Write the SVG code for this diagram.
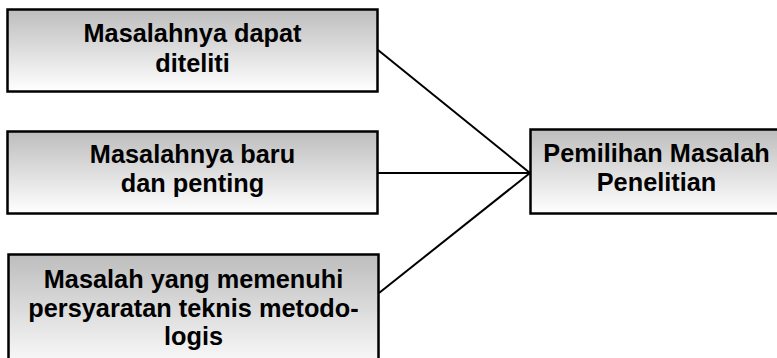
<svg xmlns="http://www.w3.org/2000/svg" width="777" height="358" viewBox="0 0 777 358">
<defs>
<linearGradient id="g" x1="0" y1="0" x2="0" y2="1">
<stop offset="0" stop-color="#bdbdbd"/>
<stop offset="1" stop-color="#ffffff"/>
</linearGradient>
<style>
.box{fill:url(#g);stroke:#000;stroke-width:2.5}
.t{font-family:"Liberation Sans",Arial,sans-serif;font-weight:bold;font-size:25.3px;fill:#000;text-anchor:middle}
.c{stroke:#000;stroke-width:2;fill:none}
</style>
</defs>
<rect width="777" height="358" fill="#fff"/>
<g id="connectors">
<line class="c" x1="378" y1="50" x2="530" y2="173"/>
<line class="c" x1="378" y1="173" x2="530" y2="173"/>
<line class="c" x1="379" y1="293" x2="530" y2="173"/>
</g>
<g id="n1">
<rect class="box" x="7.5" y="9.5" width="370" height="82"/>
<text class="t" x="192.5" y="42">Masalahnya dapat</text>
<text class="t" x="192.5" y="72">diteliti</text>
</g>
<g id="n2">
<rect class="box" x="7.5" y="131.5" width="370" height="82"/>
<text class="t" x="192.5" y="163">Masalahnya baru</text>
<text class="t" x="192.5" y="192">dan penting</text>
</g>
<g id="n3">
<rect class="box" x="8.5" y="254.5" width="370" height="120"/>
<text class="t" x="193.5" y="288">Masalah yang memenuhi</text>
<text class="t" x="193.5" y="316.5">persyaratan teknis metodo-</text>
<text class="t" x="193.5" y="345">logis</text>
</g>
<g id="n4">
<rect class="box" x="530.5" y="129.5" width="254" height="84"/>
<text class="t" x="656.5" y="162">Pemilihan Masalah</text>
<text class="t" x="656.5" y="190.5">Penelitian</text>
</g>
</svg>
